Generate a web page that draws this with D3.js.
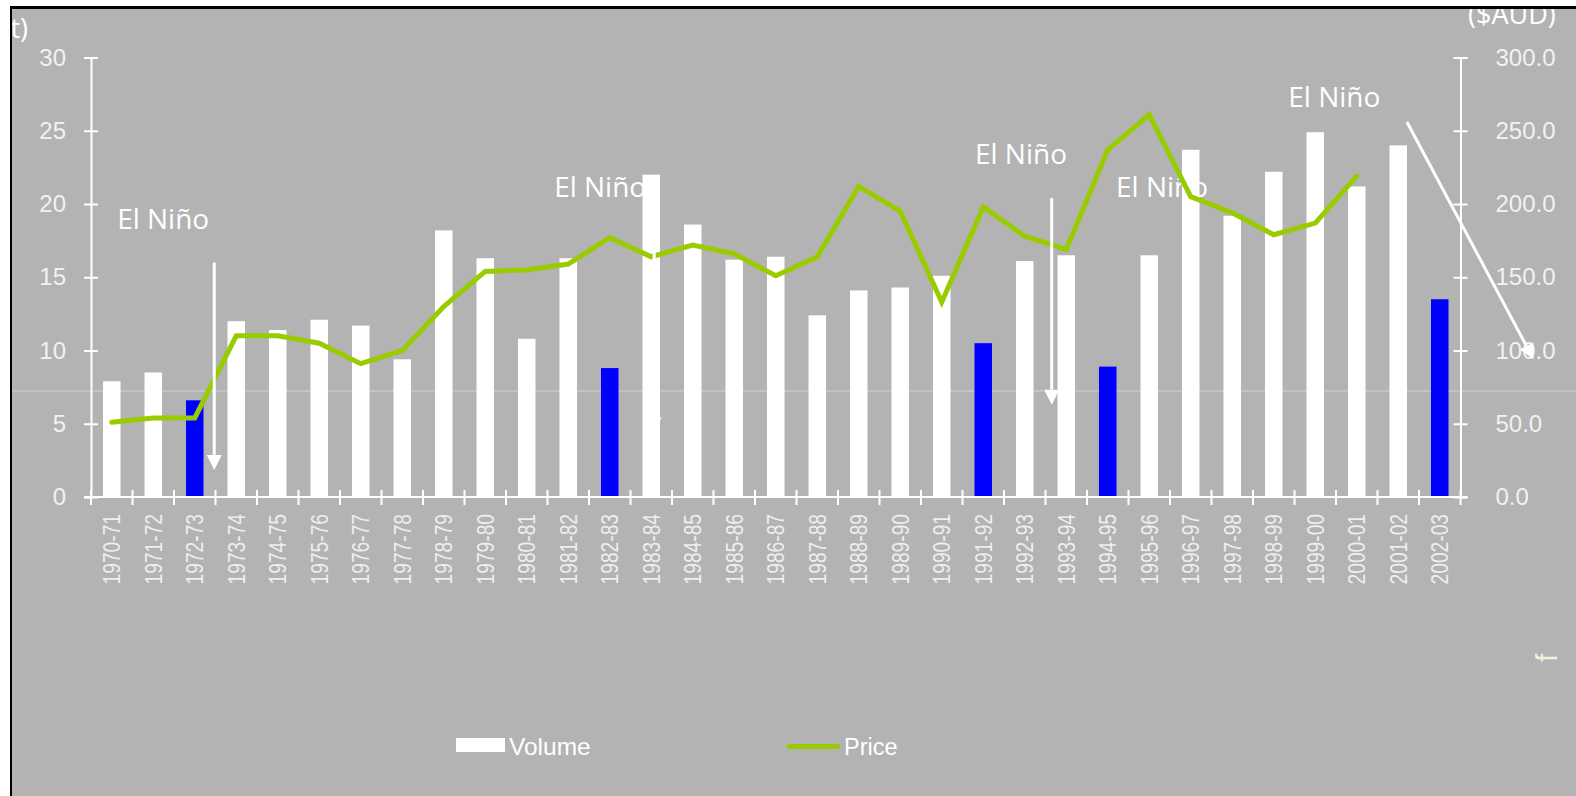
<!DOCTYPE html>
<html>
<head>
<meta charset="utf-8">
<script src="https://cdn.jsdelivr.net/npm/d3@7"></script>
<style>
  body { margin: 0; background: #fff; }
  svg { display: block; }
</style>
</head>
<body>
<script>
const seasons = ['1970-71', '1971-72', '1972-73', '1973-74', '1974-75', '1975-76', '1976-77', '1977-78',
    '1978-79', '1979-80', '1980-81', '1981-82', '1982-83', '1983-84', '1984-85', '1985-86', '1986-87',
    '1987-88', '1988-89', '1989-90', '1990-91', '1991-92', '1992-93', '1993-94', '1994-95', '1995-96',
    '1996-97', '1997-98', '1998-99', '1999-00', '2000-01', '2001-02', '2002-03'];

const volume = [7.9, 8.5, 6.6, 12.0, 11.4, 12.1, 11.7, 9.4, 18.2, 16.3, 10.8, 16.3, 8.8, 22.0, 18.6, 16.2,
    16.4, 12.4, 14.1, 14.3, 15.1, 10.5, 16.1, 16.5, 8.9, 16.5, 23.7, 19.2, 22.2, 24.9, 21.2, 24.0, 13.5];

const price = [51, 54, 54, 110, 110, 105, 91, 100, 130, 154, 155, 159, 177, 164, 172, 166, 151, 164,
    212, 195, 133, 198, 178, 169, 237, 261, 205, 194, 179, 187, 219, null, null];

// drought years get the blue bar
const drySeasons = ['1972-73', '1982-83', '1991-92', '1994-95', '2002-03'];

const volumeTicks = [0, 5, 10, 15, 20, 25, 30];
const priceTicks = [0, 50, 100, 150, 200, 250, 300];

// annotations, in (season index, volume units)
const ninoLabels = [[0.63, 18.3], [11.16, 20.5], [21.3, 22.7], [24.7, 20.5], [28.85, 26.6]];
const arrows = [
    [2.97, 16.0, 2.97, 1.85],
    [13.57, 16.75, 13.57, 4.4],
    [23.15, 20.4, 23.15, 6.3],
    [31.71, 25.6, 34.76, 9.4]
];

let width = 1576,
    height = 796;

let svg = d3.select('body').append('svg')
    .attr('width', width)
    .attr('height', height);

let plotLeft = 91, plotRight = 1460.5, plotTop = 57.5, plotBottom = 497;

let x = d3.scaleBand()
    .domain(seasons)
    .range([plotLeft, plotRight])
    .paddingInner(0.578)
    .paddingOuter(0.289);

let xi = d3.scaleLinear().domain([0, seasons.length]).range([plotLeft, plotRight]);
let yL = d3.scaleLinear().domain([0, 30]).range([plotBottom, plotTop]);
let yR = d3.scaleLinear().domain([0, 300]).range([plotBottom, plotTop]);

// frame
svg.append('rect').attr('x', 10).attr('y', 6).attr('width', width - 10).attr('height', height - 6).attr('fill', '#000');
svg.append('rect').attr('x', 12).attr('y', 9).attr('width', width - 12).attr('height', height - 9).attr('fill', '#b3b3b3');

svg.append('clipPath').attr('id', 'panel')
    .append('rect').attr('x', 12).attr('y', 9).attr('width', width - 12).attr('height', height - 9);

let g = svg.append('g').attr('clip-path', 'url(#panel)');

g.append('line')
    .attr('x1', 12).attr('x2', width)
    .attr('y1', 391).attr('y2', 391)
    .attr('stroke', '#d2d2d2').attr('stroke-width', 1);

// axis titles, mostly cut off
g.append('text')
    .attr('x', 28).attr('y', 38)
    .attr('text-anchor', 'end')
    .attr('font-family', 'Open Sans').attr('font-size', 27)
    .attr('fill', '#fff')
    .text('(kt)');

g.append('text')
    .attr('x', 1468).attr('y', 24)
    .attr('font-family', 'Open Sans').attr('font-size', 27)
    .attr('fill', '#fff')
    .text('($AUD)');

g.append('text')
    .attr('transform', 'translate(1557,662) rotate(-90)')
    .attr('font-family', 'Liberation Sans').attr('font-size', 30)
    .attr('fill', '#f3f1dc')
    .text('f');

let ax = (u) => xi(u);

g.selectAll('.nino')
    .data(ninoLabels)
    .enter().append('text')
    .attr('class', 'nino')
    .attr('x', d => ax(d[0]))
    .attr('y', d => yL(d[1]))
    .attr('font-family', 'Open Sans').attr('font-size', 28)
    .attr('fill', '#fff')
    .text('El Niño');

// bars
g.selectAll('.bar')
    .data(seasons)
    .enter().append('rect')
    .attr('class', 'bar')
    .attr('x', d => x(d))
    .attr('width', x.bandwidth())
    .attr('y', (d, i) => yL(volume[i]))
    .attr('height', (d, i) => plotBottom - yL(volume[i]))
    .attr('fill', d => drySeasons.includes(d) ? '#0000ff' : '#ffffff');

// axes
let textCol = '#f2f2f2';

let leftAxis = g.append('g')
    .attr('transform', `translate(${plotLeft},0)`)
    .call(d3.axisLeft(yL).tickValues(volumeTicks).tickSizeOuter(0).tickSize(7).tickPadding(18));

let rightAxis = g.append('g')
    .attr('transform', `translate(${plotRight},0)`)
    .call(d3.axisRight(yR).tickValues(priceTicks).tickFormat(d3.format('.1f')).tickSizeOuter(0).tickSize(7).tickPadding(28));

[leftAxis, rightAxis].forEach(a => {
    a.select('.domain').attr('stroke', '#fff').attr('stroke-width', 2);
    a.selectAll('.tick line').attr('x1', -7).attr('x2', 7).attr('stroke', '#fff').attr('stroke-width', 2);
    a.selectAll('.tick text')
        .attr('fill', textCol)
        .attr('font-family', 'Liberation Sans')
        .attr('font-size', 24);
});

g.append('line')
    .attr('x1', plotLeft - 7).attr('x2', plotRight + 7)
    .attr('y1', plotBottom).attr('y2', plotBottom)
    .attr('stroke', '#fff').attr('stroke-width', 2);

g.selectAll('.xtick')
    .data(d3.range(seasons.length + 1))
    .enter().append('line')
    .attr('class', 'xtick')
    .attr('x1', d => xi(d)).attr('x2', d => xi(d))
    .attr('y1', plotBottom - 7).attr('y2', plotBottom + 8)
    .attr('stroke', '#fff').attr('stroke-width', 2);

g.selectAll('.xlabel')
    .data(seasons)
    .enter().append('text')
    .attr('class', 'xlabel')
    .attr('transform', d => `translate(${x(d) + x.bandwidth() / 2},514) rotate(-90) scale(0.8,1)`)
    .attr('dy', '0.35em')
    .attr('text-anchor', 'end')
    .attr('font-family', 'Liberation Sans').attr('font-size', 24)
    .attr('fill', '#eeeeee')
    .text(d => d);

// price line
let line = d3.line()
    .defined(d => d != null)
    .x((d, i) => x(seasons[i]) + x.bandwidth() / 2)
    .y(d => yR(d));

g.append('path')
    .datum(price)
    .attr('d', line)
    .attr('fill', 'none')
    .attr('stroke', '#99cc00')
    .attr('stroke-width', 5)
    .attr('stroke-linecap', 'round');

// arrows
function arrow(a) {
    let x1 = ax(a[0]), y1 = yL(a[1]), x2 = ax(a[2]), y2 = yL(a[3]);
    let ang = Math.atan2(y2 - y1, x2 - x1);
    let len = 15, half = 7.5;
    let bx = x2 - len * Math.cos(ang), by = y2 - len * Math.sin(ang);
    g.append('line')
        .attr('x1', x1).attr('y1', y1).attr('x2', bx).attr('y2', by)
        .attr('stroke', '#fff').attr('stroke-width', 3);
    let px = -Math.sin(ang) * half, py = Math.cos(ang) * half;
    g.append('polygon')
        .attr('points', [[x2, y2], [bx + px, by + py], [bx - px, by - py]].join(' '))
        .attr('fill', '#fff');
}
arrows.forEach(arrow);

// legend
g.append('rect').attr('x', 456).attr('y', 738).attr('width', 49).attr('height', 14).attr('fill', '#fff');
g.append('text').attr('x', 509).attr('y', 755)
    .attr('font-family', 'Liberation Sans').attr('font-size', 24.5).attr('fill', '#fff')
    .text('Volume');
g.append('line').attr('x1', 789).attr('x2', 838).attr('y1', 746.5).attr('y2', 746.5)
    .attr('stroke', '#99cc00').attr('stroke-width', 5).attr('stroke-linecap', 'round');
g.append('text').attr('x', 844).attr('y', 755)
    .attr('font-family', 'Liberation Sans').attr('font-size', 23.5).attr('fill', '#fff')
    .text('Price');
</script>
</body>
</html>
